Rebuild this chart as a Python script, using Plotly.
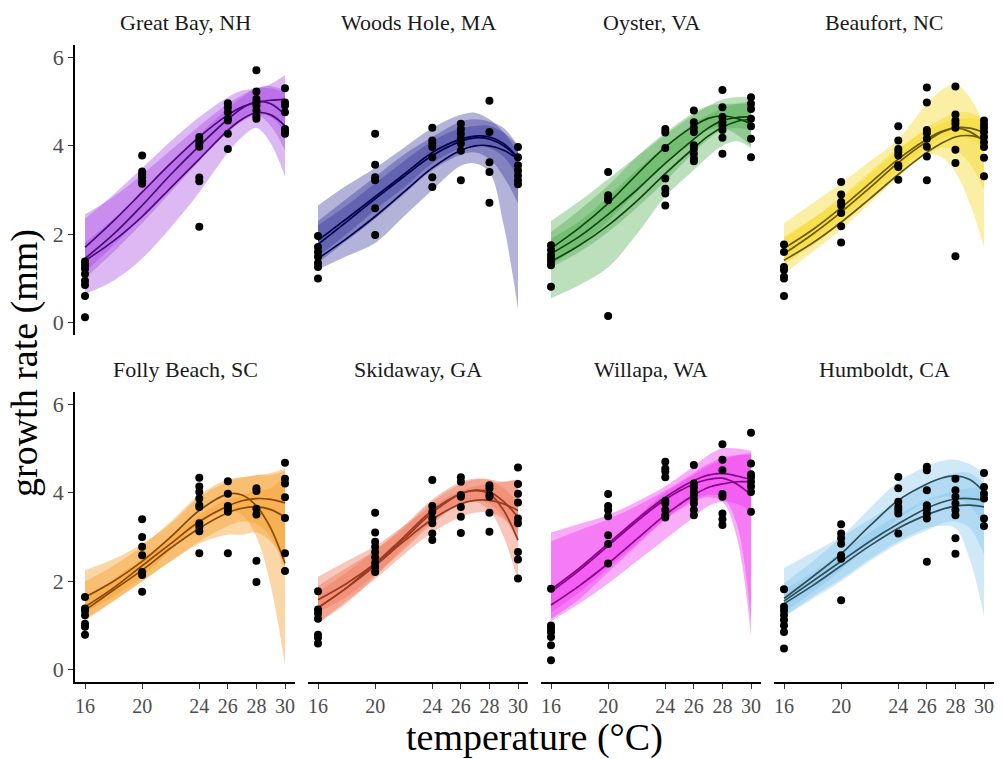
import plotly.graph_objects as go

# ---------------- data ----------------
FIT_T = [16, 18, 20, 22, 24, 26, 27, 28, 29, 30]
TICKS = [16, 20, 24, 26, 28, 30]

# Great Bay, NH
great_bay_obs = {
    16: [1.38, 1.30, 1.22, 1.10, 0.95, 0.85, 0.60, 0.12],
    20: [3.78, 3.42, 3.35, 3.28, 3.20, 3.14],
    24: [4.20, 4.12, 4.05, 3.98, 3.28, 3.20, 2.17],
    26: [4.96, 4.87, 4.76, 4.61, 4.57, 4.27, 3.93],
    28: [5.71, 5.23, 5.06, 4.98, 4.91, 4.80, 4.68, 4.61],
    30: [5.30, 4.98, 4.91, 4.76, 4.38, 4.31, 4.27],
}
great_bay_fit = [
    [1.70, 2.30, 2.95, 3.60, 4.20, 4.70, 4.88, 4.98, 5.03, 5.05],
    [1.45, 2.00, 2.65, 3.35, 4.00, 4.60, 4.85, 5.00, 4.95, 4.70],
    [1.40, 1.85, 2.40, 3.05, 3.70, 4.35, 4.60, 4.75, 4.70, 4.45],
]
great_bay_lo = [
    [1.00, 1.60, 2.25, 2.95, 3.65, 4.30, 4.55, 4.70, 4.65, 4.30],
    [1.15, 1.75, 2.40, 3.05, 3.70, 4.35, 4.60, 4.70, 4.45, 3.90],
    [0.65, 0.95, 1.45, 2.15, 2.95, 3.85, 4.20, 4.40, 4.05, 3.30],
]
great_bay_hi = [
    [2.35, 2.90, 3.50, 4.10, 4.65, 5.10, 5.25, 5.30, 5.40, 5.60],
    [1.80, 2.35, 2.95, 3.60, 4.25, 4.85, 5.10, 5.30, 5.35, 5.25],
    [2.45, 2.85, 3.35, 3.90, 4.45, 4.95, 5.15, 5.30, 5.30, 5.20],
]

# Woods Hole, MA
woods_hole_obs = {
    16: [1.96, 1.71, 1.60, 1.49, 1.35, 1.26, 1.00],
    20: [4.27, 3.57, 3.29, 3.22, 2.59, 1.98],
    24: [4.41, 4.12, 4.05, 3.97, 3.74, 3.29, 3.07],
    26: [4.50, 4.38, 4.27, 4.16, 4.05, 3.89, 3.22],
    28: [5.02, 4.31, 3.63, 3.41, 2.71],
    30: [3.97, 3.74, 3.56, 3.44, 3.33, 3.22, 3.13],
}
woods_hole_fit = [
    [1.86, 2.35, 2.85, 3.35, 3.85, 4.15, 4.22, 4.20, 4.05, 3.72],
    [1.77, 2.28, 2.80, 3.30, 3.78, 4.10, 4.18, 4.15, 4.00, 3.72],
    [1.45, 1.90, 2.40, 2.95, 3.50, 3.90, 4.00, 4.00, 3.90, 3.70],
]
woods_hole_lo = [
    [1.50, 2.00, 2.55, 3.05, 3.60, 3.95, 4.00, 3.95, 3.75, 3.30],
    [1.35, 1.85, 2.35, 2.90, 3.45, 3.80, 3.85, 3.70, 3.30, 2.70],
    [1.20, 1.50, 1.80, 2.40, 3.00, 3.55, 3.60, 3.40, 2.20, 0.30],
]
woods_hole_hi = [
    [2.20, 2.65, 3.15, 3.65, 4.10, 4.40, 4.45, 4.45, 4.30, 4.00],
    [2.30, 2.80, 3.30, 3.80, 4.20, 4.55, 4.60, 4.55, 4.40, 4.00],
    [2.65, 3.10, 3.50, 3.95, 4.40, 4.70, 4.75, 4.60, 4.30, 3.85],
]

# Oyster, VA
oyster_obs = {
    16: [1.75, 1.64, 1.53, 1.45, 1.38, 1.30, 0.81],
    20: [3.41, 2.88, 2.80, 2.77, 0.15],
    24: [4.38, 4.30, 3.95, 3.26, 3.03, 2.92, 2.65],
    26: [4.80, 4.53, 4.41, 4.31, 4.01, 3.93, 3.82, 3.71, 3.65],
    28: [5.26, 4.87, 4.65, 4.53, 4.46, 4.36, 4.18, 3.82],
    30: [5.10, 4.95, 4.83, 4.61, 4.44, 4.16, 3.74],
}
oyster_fit = [
    [1.68, 2.15, 2.70, 3.35, 3.97, 4.45, 4.62, 4.68, 4.62, 4.50],
    [1.56, 1.95, 2.45, 3.00, 3.60, 4.15, 4.40, 4.57, 4.64, 4.66],
    [1.38, 1.75, 2.20, 2.75, 3.37, 3.95, 4.22, 4.42, 4.55, 4.60],
]
oyster_lo = [
    [1.30, 1.75, 2.30, 2.95, 3.60, 4.15, 4.35, 4.40, 4.25, 4.00],
    [1.25, 1.60, 2.05, 2.60, 3.20, 3.85, 4.15, 4.35, 4.40, 4.35],
    [0.55, 0.85, 1.25, 2.00, 2.85, 3.45, 3.75, 4.00, 4.10, 3.95],
]
oyster_hi = [
    [2.05, 2.55, 3.10, 3.75, 4.30, 4.75, 4.90, 4.95, 4.95, 4.95],
    [1.90, 2.30, 2.85, 3.45, 4.00, 4.50, 4.70, 4.85, 4.95, 5.00],
    [2.30, 2.75, 3.25, 3.75, 4.25, 4.70, 4.90, 5.05, 5.10, 5.10],
]

# Beaufort, NC
beaufort_obs = {
    16: [1.77, 1.60, 1.26, 1.19, 1.04, 1.00, 0.60],
    20: [3.18, 2.90, 2.73, 2.65, 2.48, 2.18, 1.81],
    24: [4.44, 4.12, 3.93, 3.86, 3.78, 3.56, 3.52, 3.23],
    26: [5.32, 4.98, 4.36, 4.29, 4.16, 3.98, 3.76, 3.22],
    28: [5.34, 4.71, 4.57, 4.50, 4.41, 3.91, 3.61, 1.50],
    30: [4.57, 4.48, 4.41, 4.31, 4.20, 4.08, 3.97, 3.73, 3.31],
}
beaufort_fit = [
    [1.68, 2.10, 2.60, 3.15, 3.70, 4.15, 4.32, 4.41, 4.40, 4.30],
    [1.56, 2.00, 2.50, 3.05, 3.62, 4.10, 4.30, 4.40, 4.32, 4.10],
    [1.41, 1.80, 2.27, 2.80, 3.35, 3.85, 4.05, 4.20, 4.23, 4.15],
]
beaufort_lo = [
    [1.45, 1.85, 2.35, 2.90, 3.45, 3.95, 4.15, 4.22, 4.15, 3.95],
    [1.30, 1.75, 2.25, 2.80, 3.35, 3.80, 3.95, 3.90, 3.60, 3.00],
    [1.10, 1.60, 2.10, 2.70, 3.30, 3.80, 3.75, 3.40, 2.70, 1.70],
]
beaufort_hi = [
    [1.90, 2.35, 2.85, 3.40, 3.95, 4.35, 4.50, 4.60, 4.62, 4.60],
    [1.95, 2.35, 2.80, 3.35, 3.90, 4.40, 4.60, 4.75, 4.75, 4.60],
    [2.25, 2.70, 3.15, 3.65, 4.15, 4.95, 5.25, 5.40, 5.10, 4.50],
]

# Folly Beach, SC
folly_obs = {
    16: [1.64, 1.38, 1.33, 1.23, 1.04, 0.97, 0.79],
    20: [3.40, 3.00, 2.78, 2.59, 2.21, 2.14, 1.76],
    24: [4.34, 4.14, 4.02, 3.87, 3.72, 3.68, 3.31, 3.23, 3.13, 2.63],
    26: [4.26, 3.98, 3.70, 3.64, 3.57, 2.63],
    28: [4.10, 4.04, 3.64, 3.51, 2.46, 1.98],
    30: [4.68, 4.32, 4.21, 3.90, 3.43, 2.63, 2.23],
}
folly_fit = [
    [1.64, 2.00, 2.45, 3.00, 3.60, 3.97, 3.95, 3.70, 3.20, 2.40],
    [1.42, 1.85, 2.35, 2.85, 3.35, 3.70, 3.82, 3.87, 3.85, 3.77],
    [1.34, 1.80, 2.25, 2.75, 3.20, 3.55, 3.65, 3.68, 3.62, 3.45],
]
folly_lo = [
    [1.30, 1.65, 2.10, 2.70, 3.30, 3.60, 3.50, 3.00, 1.90, 0.10],
    [1.15, 1.55, 2.00, 2.45, 2.85, 3.05, 3.05, 3.10, 2.90, 2.50],
    [1.10, 1.55, 2.00, 2.45, 2.90, 3.25, 3.35, 3.30, 3.00, 2.20],
]
folly_hi = [
    [2.00, 2.35, 2.80, 3.35, 3.95, 4.30, 4.35, 4.40, 4.40, 4.50],
    [2.25, 2.50, 2.85, 3.30, 3.90, 4.25, 4.35, 4.40, 4.45, 4.55],
    [1.60, 2.05, 2.50, 3.00, 3.50, 3.85, 3.95, 4.05, 4.10, 4.40],
]

# Skidaway, GA
skidaway_obs = {
    16: [1.77, 1.36, 1.27, 1.15, 0.79, 0.72, 0.59],
    20: [3.55, 3.10, 2.89, 2.78, 2.66, 2.54, 2.42, 2.32, 2.21],
    24: [4.29, 3.70, 3.57, 3.42, 3.31, 3.08, 2.93],
    26: [4.35, 4.25, 3.95, 3.91, 3.68, 3.46, 3.09],
    28: [4.17, 4.10, 3.95, 3.91, 3.55, 3.12],
    30: [4.57, 4.20, 3.98, 3.78, 3.42, 3.31, 2.66, 2.49, 2.06],
}
skidaway_fit = [
    [1.58, 1.95, 2.40, 2.95, 3.55, 3.98, 4.06, 4.02, 3.80, 3.45],
    [1.40, 1.85, 2.40, 3.00, 3.60, 3.98, 4.05, 3.98, 3.60, 2.93],
    [1.40, 1.85, 2.35, 2.90, 3.40, 3.75, 3.83, 3.83, 3.75, 3.60],
]
skidaway_lo = [
    [1.30, 1.65, 2.15, 2.70, 3.30, 3.75, 3.82, 3.75, 3.45, 2.90],
    [1.05, 1.50, 2.10, 2.75, 3.35, 3.75, 3.80, 3.60, 3.00, 2.00],
    [1.05, 1.55, 2.05, 2.60, 3.10, 3.45, 3.55, 3.55, 3.40, 3.10],
]
skidaway_hi = [
    [1.90, 2.30, 2.70, 3.20, 3.80, 4.20, 4.30, 4.30, 4.25, 4.30],
    [1.75, 2.20, 2.70, 3.25, 3.85, 4.25, 4.32, 4.30, 4.10, 3.80],
    [2.10, 2.45, 2.80, 3.25, 3.70, 4.05, 4.15, 4.20, 4.25, 4.30],
]

# Willapa, WA
willapa_obs = {
    16: [1.83, 1.00, 0.93, 0.85, 0.74, 0.55, 0.21],
    20: [3.97, 3.70, 3.61, 3.47, 3.04, 2.84, 2.40],
    24: [4.70, 4.55, 4.48, 4.35, 3.82, 3.76, 3.61, 3.49, 3.44],
    26: [4.63, 4.21, 4.12, 4.02, 3.95, 3.85, 3.76, 3.61, 3.49],
    28: [5.10, 4.75, 4.51, 3.97, 3.91, 3.53, 3.40, 3.27],
    30: [5.36, 4.66, 4.42, 4.35, 4.25, 4.14, 4.02, 3.57],
}
willapa_fit = [
    [1.81, 2.30, 2.85, 3.40, 3.90, 4.28, 4.40, 4.44, 4.38, 4.30],
    [1.76, 2.25, 2.80, 3.35, 3.85, 4.20, 4.30, 4.33, 4.20, 3.95],
    [1.46, 1.90, 2.40, 2.95, 3.50, 3.95, 4.12, 4.20, 4.25, 4.25],
]
willapa_lo = [
    [1.15, 1.60, 2.20, 2.80, 3.40, 3.85, 3.95, 3.90, 3.30, 1.10],
    [1.30, 1.75, 2.30, 2.85, 3.40, 3.80, 3.90, 3.80, 3.00, 0.75],
    [1.10, 1.50, 1.95, 2.45, 2.95, 3.45, 3.70, 3.80, 3.75, 3.60],
]
willapa_hi = [
    [3.10, 3.30, 3.50, 3.80, 4.15, 4.60, 4.85, 5.00, 5.00, 4.95],
    [2.90, 3.15, 3.40, 3.70, 4.05, 4.45, 4.65, 4.80, 4.85, 4.85],
    [1.85, 2.30, 2.85, 3.45, 4.00, 4.40, 4.60, 4.75, 4.85, 4.90],
]

# Humboldt, CA
humboldt_obs = {
    16: [1.82, 1.42, 1.34, 1.23, 1.12, 1.00, 0.85, 0.48],
    20: [3.29, 3.08, 2.97, 2.85, 2.59, 2.51, 1.57],
    24: [4.36, 4.10, 3.80, 3.68, 3.61, 3.53, 3.08],
    26: [4.59, 4.51, 4.06, 3.72, 3.64, 3.53, 3.42, 2.44],
    28: [4.32, 4.06, 3.91, 3.76, 3.61, 3.49, 2.97, 2.62],
    30: [4.45, 4.13, 3.98, 3.87, 3.42, 3.25],
}
humboldt_fit = [
    [1.61, 2.10, 2.62, 3.25, 3.83, 4.20, 4.33, 4.38, 4.30, 4.02],
    [1.55, 2.00, 2.45, 2.90, 3.30, 3.65, 3.78, 3.86, 3.87, 3.83],
    [1.49, 1.90, 2.35, 2.80, 3.20, 3.50, 3.62, 3.70, 3.72, 3.68],
]
humboldt_lo = [
    [1.30, 1.75, 2.25, 2.85, 3.40, 3.80, 3.90, 3.90, 3.70, 3.30],
    [1.20, 1.65, 2.05, 2.50, 2.90, 3.20, 3.25, 3.20, 2.50, 1.20],
    [1.20, 1.60, 2.00, 2.45, 2.85, 3.15, 3.30, 3.35, 3.20, 2.60],
]
humboldt_hi = [
    [1.95, 2.45, 3.00, 3.65, 4.25, 4.60, 4.72, 4.75, 4.65, 4.45],
    [2.30, 2.65, 3.00, 3.40, 3.80, 4.20, 4.35, 4.45, 4.45, 4.20],
    [1.80, 2.20, 2.65, 3.10, 3.50, 3.85, 3.95, 4.05, 4.10, 4.15],
]

SITES = [
    ("Great Bay, NH", great_bay_obs, great_bay_fit, great_bay_lo, great_bay_hi,
     "rgba(165,70,225,0.38)", "#4a0a7a"),
    ("Woods Hole, MA", woods_hole_obs, woods_hole_fit, woods_hole_lo, woods_hole_hi,
     "rgba(45,45,150,0.36)", "#00004d"),
    ("Oyster, VA", oyster_obs, oyster_fit, oyster_lo, oyster_hi,
     "rgba(70,165,70,0.36)", "#0b4a0b"),
    ("Beaufort, NC", beaufort_obs, beaufort_fit, beaufort_lo, beaufort_hi,
     "rgba(245,215,30,0.40)", "#6b5a00"),
    ("Folly Beach, SC", folly_obs, folly_fit, folly_lo, folly_hi,
     "rgba(245,155,35,0.40)", "#8b4800"),
    ("Skidaway, GA", skidaway_obs, skidaway_fit, skidaway_lo, skidaway_hi,
     "rgba(238,115,85,0.40)", "#9a3a22"),
    ("Willapa, WA", willapa_obs, willapa_fit, willapa_lo, willapa_hi,
     "rgba(240,50,240,0.40)", "#860086"),
    ("Humboldt, CA", humboldt_obs, humboldt_fit, humboldt_lo, humboldt_hi,
     "rgba(125,195,235,0.36)", "#2f4f5a"),
]

# ---------------- layout ----------------
W, H = 1002, 759
X_DOMAINS = [(75, 295), (308, 528), (541, 761), (774, 994)]
Y_DOMAINS = [(45, 335), (392, 682)]  # pixel top, bottom
FONT = "Liberation Serif, Times New Roman, serif"

fig = go.Figure()
layout = dict(width=W, height=H, margin=dict(l=0, r=0, t=0, b=0),
              paper_bgcolor="white", plot_bgcolor="white", showlegend=False,
              font=dict(family=FONT))
annotations = []

for i, (title, obs, fit, lo, hi, band, line) in enumerate(SITES):
    r, c = divmod(i, 4)
    k = i + 1
    xa = "x" if k == 1 else f"x{k}"
    ya = "y" if k == 1 else f"y{k}"
    xd = [X_DOMAINS[c][0] / W, X_DOMAINS[c][1] / W]
    yd = [1 - Y_DOMAINS[r][1] / H, 1 - Y_DOMAINS[r][0] / H]
    layout["xaxis" if k == 1 else f"xaxis{k}"] = dict(
        domain=xd, anchor=ya, range=[15.3, 30.7], tickvals=TICKS,
        showgrid=False, zeroline=False,
        showline=(r == 1), linecolor="black", linewidth=1.6,
        ticks="outside" if r == 1 else "", ticklen=5, tickwidth=1.3, tickcolor="#333",
        showticklabels=(r == 1),
        tickfont=dict(family=FONT, size=20, color="#4d4d4d"))
    layout["yaxis" if k == 1 else f"yaxis{k}"] = dict(
        domain=yd, anchor=xa, range=[-0.28, 6.28], tickvals=[0, 2, 4, 6],
        showgrid=False, zeroline=False,
        showline=(c == 0), linecolor="black", linewidth=1.6,
        ticks="outside" if c == 0 else "", ticklen=5, tickwidth=1.3, tickcolor="#333",
        showticklabels=(c == 0),
        tickfont=dict(family=FONT, size=22, color="#4d4d4d"))

    # bands
    for j in range(3):
        fig.add_trace(go.Scatter(x=FIT_T, y=lo[j], mode="lines", line=dict(width=0, shape="spline"),
                                 xaxis=xa, yaxis=ya, hoverinfo="skip"))
        fig.add_trace(go.Scatter(x=FIT_T, y=hi[j], mode="lines", line=dict(width=0, shape="spline"),
                                 fill="tonexty", fillcolor=band,
                                 xaxis=xa, yaxis=ya, hoverinfo="skip"))
    # fitted lines
    for j in range(3):
        fig.add_trace(go.Scatter(x=FIT_T, y=fit[j], mode="lines",
                                 line=dict(color=line, width=1.7, shape="spline"),
                                 xaxis=xa, yaxis=ya))
    # observations
    px, py = [], []
    for t, vals in obs.items():
        px += [t] * len(vals)
        py += vals
    fig.add_trace(go.Scatter(x=px, y=py, mode="markers",
                             marker=dict(color="black", size=8),
                             xaxis=xa, yaxis=ya))

    cx = (X_DOMAINS[c][0] + X_DOMAINS[c][1]) / 2 / W
    ty = 1 - (Y_DOMAINS[r][0] - 22) / H
    annotations.append(dict(text=title, x=cx, y=ty, xref="paper", yref="paper",
                            xanchor="center", yanchor="middle", showarrow=False,
                            font=dict(family=FONT, size=22, color="#1a1a1a")))

annotations.append(dict(text="growth rate (mm)", x=24 / W, y=1 - 363 / H,
                        xref="paper", yref="paper", textangle=-90,
                        xanchor="center", yanchor="middle", showarrow=False,
                        font=dict(family=FONT, size=38, color="black")))
annotations.append(dict(text="temperature (°C)", x=534 / W, y=1 - 737 / H,
                        xref="paper", yref="paper",
                        xanchor="center", yanchor="middle", showarrow=False,
                        font=dict(family=FONT, size=38, color="black")))
layout["annotations"] = annotations
fig.update_layout(**layout)
fig.write_html("out.html", config={"displayModeBar": False},
               post_script="document.body.style.margin='0px';document.body.style.overflow='hidden';")
